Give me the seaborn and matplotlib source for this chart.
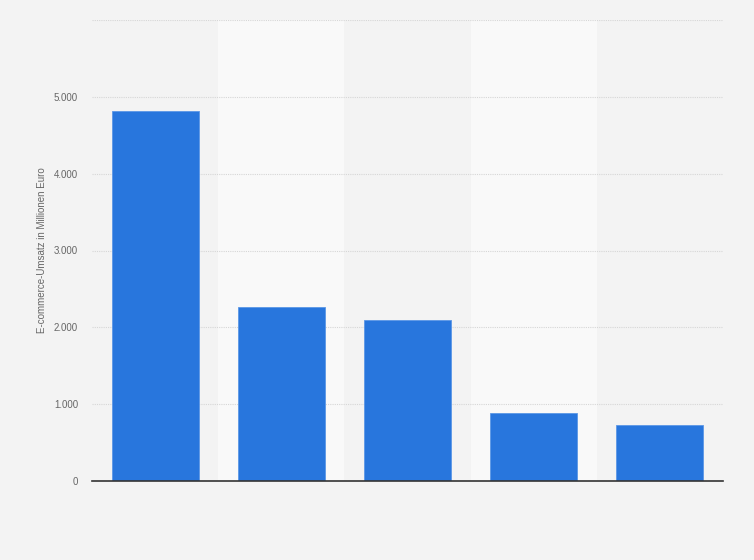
import matplotlib
matplotlib.use("Agg")
import matplotlib.pyplot as plt
import matplotlib.ticker as mticker
import seaborn as sns
import pandas as pd

# Daten (Kategorienamen sind im Bild nicht beschriftet)
categories = ["1", "2", "3", "4", "5"]
umsatz = [4820, 2270, 2100, 890, 735]
y_ticks = [0, 1000, 2000, 3000, 4000, 5000, 6000]

df = pd.DataFrame({"cat": categories, "val": umsatz})

sns.set_theme(style="white")
plt.rcParams['font.family'] = ['Liberation Sans', 'DejaVu Sans']

fig = plt.figure(figsize=(7.54, 5.6), dpi=100, facecolor="#f3f3f3")
ax = fig.add_axes([92 / 754, 79 / 560, 631 / 754, 461 / 560])
ax.set_facecolor("#f3f3f3")

# abwechselnde helle Spalten
for i in range(len(categories)):
    if i % 2 == 1:
        ax.axvspan(i - 0.5, i + 0.5, color="#f9f9f9", zorder=0, lw=0)

sns.barplot(data=df, x="cat", y="val", color="#2876dd", width=0.69,
            saturation=1, ax=ax, zorder=3, edgecolor="#5b97e6", linewidth=0.6)

ax.set_xlim(-0.5, len(categories) - 0.5)
ax.set_ylim(0, 6000)
ax.set_yticks(y_ticks)
ax.yaxis.set_major_formatter(mticker.FuncFormatter(
    lambda v, p: "" if v >= 6000 else f"{int(v):,}".replace(",", ".")))
ax.grid(axis="y", color="#d6d6d6", linestyle=(0, (1, 1)), linewidth=0.8, zorder=1)
ax.set_axisbelow(False)
ax.set_xticks(range(len(categories)))
ax.set_xticklabels([])
ax.tick_params(axis="y", length=0, labelsize=7, labelcolor="#666666", pad=10)
ax.tick_params(axis="x", length=0)
ax.set_xlabel("")
ax.set_ylabel("E-commerce-Umsatz in Millionen Euro", fontsize=7, color="#666666", labelpad=5)

for s in ["top", "right", "left"]:
    ax.spines[s].set_visible(False)
ax.spines["bottom"].set_color("#333333")
ax.spines["bottom"].set_linewidth(1.2)
ax.spines["bottom"].set_zorder(4)

fig.savefig("out.png", dpi=100, facecolor=fig.get_facecolor())
